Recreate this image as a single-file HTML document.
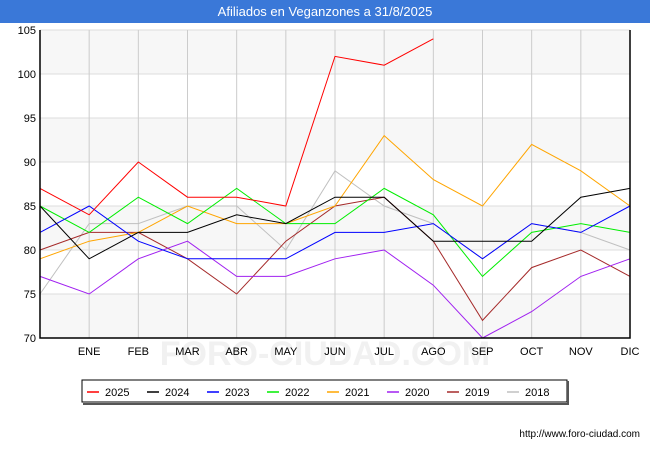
<!DOCTYPE html>
<html><head><meta charset="utf-8"><style>
body{margin:0;background:#fff;font-family:"Liberation Sans",sans-serif}
</style></head><body>
<svg width="650" height="450" xmlns="http://www.w3.org/2000/svg" font-family="Liberation Sans, sans-serif">
<rect x="0" y="0" width="650" height="450" fill="#fff"/>
<rect x="0" y="0" width="650" height="23" fill="#3a78d8"/>
<text x="325" y="16" text-anchor="middle" fill="#fff" font-size="13">Afiliados en Veganzones a 31/8/2025</text>
<g id="bands"></g><g id="grid"></g>
<text x="325" y="365" text-anchor="middle" font-size="34" fill="#f1f1f1" font-weight="bold">FORO-CIUDAD.COM</text>
<g id="series"></g><g id="axes"></g>
<g id="legend"></g>
<text x="640" y="437" text-anchor="end" font-size="10" fill="#000">http://www.foro-ciudad.com</text>
</svg>
<script>
const categories=["","ENE","FEB","MAR","ABR","MAY","JUN","JUL","AGO","SEP","OCT","NOV","DIC"];
const yTicks=[70,75,80,85,90,95,100,105];
const seriesNames=["2025","2024","2023","2022","2021","2020","2019","2018"];
const seriesColors=["#ff0000","#000000","#0000ff","#00ee00","#ffa500","#a020f0","#a52a2a","#c0c0c0"];
const s2025=[87,84,90,86,86,85,102,101,104];
const s2024=[85,79,82,82,84,83,86,86,81,81,81,86,87];
const s2023=[82,85,81,79,79,79,82,82,83,79,83,82,85];
const s2022=[85,82,86,83,87,83,83,87,84,77,82,83,82];
const s2021=[79,81,82,85,83,83,85,93,88,85,92,89,85];
const s2020=[77,75,79,81,77,77,79,80,76,70,73,77,79];
const s2019=[80,82,82,79,75,81,85,86,81,72,78,80,77];
const s2018=[75,83,83,85,85,80,89,85,83,79,83,82,80];
const allSeries=[s2025,s2024,s2023,s2022,s2021,s2020,s2019,s2018];
const NS="http://www.w3.org/2000/svg";
const L=40,R=630,T=30,B=338,ymin=70,ymax=105;
const xs=i=>L+i*(R-L)/(categories.length-1);
const ys=v=>B-(v-ymin)*(B-T)/(ymax-ymin);
function mk(p,t,a){const e=document.createElementNS(NS,t);for(const k in a)e.setAttribute(k,a[k]);document.getElementById(p).appendChild(e);return e;}
for(let i=0;i<yTicks.length-1;i+=2){const r=mk('bands','rect',{x:L,y:ys(yTicks[i+1]),width:R-L,height:ys(yTicks[i])-ys(yTicks[i+1]),fill:'#f7f7f7'});

}
yTicks.forEach(v=>{const l=mk('grid','line',{x1:L,x2:R,y1:ys(v),y2:ys(v),stroke:'#ddd'});


const t=mk('axes','text',{x:L-4,y:ys(v)+4,'text-anchor':'end','font-size':11});t.textContent=v;

});
categories.forEach((c,i)=>{if(i>0){const l=mk('grid','line',{x1:xs(i),x2:xs(i),y1:T,y2:B,stroke:'#ccc'});

}
const t=mk('axes','text',{x:xs(i),y:B+17,'text-anchor':'middle','font-size':11});t.textContent=c;

});
const ax=mk('axes','path',{d:`M${L},${T}V${B}H${R}V${T}`,fill:'none',stroke:'#000','stroke-width':1.5});


for(let k=allSeries.length-1;k>=0;k--){const d=allSeries[k].map((v,i)=>(i?'L':'M')+xs(i)+','+ys(v)).join('');
const p=mk('series','path',{d:d,fill:'none',stroke:seriesColors[k],'stroke-width':1});

}
const lb=mk('legend','rect',{x:82,y:380,width:485,height:22,fill:'#fff',stroke:'#000'});


mk('legend','path',{d:'M568,381V404H83',stroke:'#555','stroke-width':2,fill:'none'});
seriesNames.forEach((n,i)=>{const x=87+i*60;
const l=mk('legend','line',{x1:x,x2:x+12,y1:392,y2:392,stroke:seriesColors[i],'stroke-width':1.5});


const t=mk('legend','text',{x:x+18,y:396,'font-size':11});t.textContent=n;

});
</script>
</body></html>
